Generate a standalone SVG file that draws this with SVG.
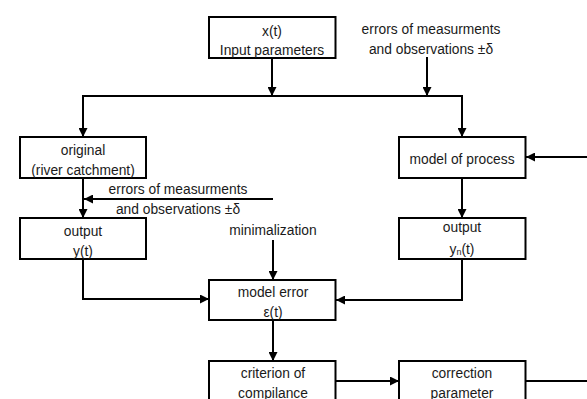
<svg xmlns="http://www.w3.org/2000/svg" width="587" height="399" viewBox="0 0 587 399">
<style>
.box{fill:#fff;stroke:#000;stroke-width:2}
.ln{fill:none;stroke:#000;stroke-width:2}
text{font-family:"Liberation Sans",Arial,sans-serif;font-size:13.8px;fill:#1a1a1a;text-anchor:middle;dominant-baseline:central}
</style>
<defs>
<marker id="ah" viewBox="0 0 10 10" refX="10" refY="5" markerWidth="9" markerHeight="9" markerUnits="userSpaceOnUse" orient="auto">
<path d="M0,0 L10,5 L0,10 z" fill="#000"/>
</marker>
</defs>
<rect width="587" height="399" fill="#fff"/>
<g id="connectors">
<path class="ln" d="M272,58 V96" marker-end="url(#ah)"/>
<path class="ln" d="M427,57 V96" marker-end="url(#ah)"/>
<path class="ln" d="M272,96 H83 V137" marker-end="url(#ah)"/>
<path class="ln" d="M272,96 H462 V137" marker-end="url(#ah)"/>
<path class="ln" d="M587,157 H526" marker-end="url(#ah)"/>
<path class="ln" d="M83,178 V218" marker-end="url(#ah)"/>
<path class="ln" d="M273,199 H84" marker-end="url(#ah)"/>
<path class="ln" d="M462,178 V218" marker-end="url(#ah)"/>
<path class="ln" d="M273,240 V280" marker-end="url(#ah)"/>
<path class="ln" d="M83,259 V299 H209" marker-end="url(#ah)"/>
<path class="ln" d="M462,259 V300 H336" marker-end="url(#ah)"/>
<path class="ln" d="M273,320 V361" marker-end="url(#ah)"/>
<path class="ln" d="M336,381 H399" marker-end="url(#ah)"/>
<path class="ln" d="M525,381 H587"/>
</g>
<g id="input">
<rect class="box" x="209" y="17" width="126.5" height="41"/>
<text x="272" y="31">x(t)</text>
<text x="272" y="50">Input parameters</text>
</g>
<g id="errors-top">
<text x="431" y="29">errors of measurments</text>
<text x="431" y="49">and observations ±δ</text>
</g>
<g id="original">
<rect class="box" x="20" y="137" width="126" height="41"/>
<text x="83" y="150">original</text>
<text x="83" y="170">(river catchment)</text>
</g>
<g id="model-process">
<rect class="box" x="399" y="137" width="126.5" height="41"/>
<text x="462" y="159">model of process</text>
</g>
<g id="errors-mid">
<text x="178" y="189">errors of measurments</text>
<text x="178" y="209">and observations ±δ</text>
</g>
<g id="output-y">
<rect class="box" x="20" y="218" width="126" height="41"/>
<text x="83" y="231">output</text>
<text x="83" y="251">y(t)</text>
</g>
<g id="minimalization">
<text x="273" y="230.5">minimalization</text>
</g>
<g id="output-yn">
<rect class="box" x="399" y="218" width="126.5" height="41"/>
<text x="462" y="227">output</text>
<text x="462" y="249">y<tspan font-size="9" dy="3">n</tspan><tspan dy="-3">(t)</tspan></text>
</g>
<g id="model-error">
<rect class="box" x="209" y="280" width="126.5" height="40"/>
<text x="273" y="292">model error</text>
<text x="273" y="312">ε(t)</text>
</g>
<g id="criterion">
<rect class="box" x="209" y="361" width="126.5" height="50"/>
<text x="273" y="373">criterion of</text>
<text x="273" y="393">compilance</text>
</g>
<g id="correction">
<rect class="box" x="399" y="361" width="126.5" height="50"/>
<text x="462" y="373">correction</text>
<text x="462" y="393">parameter</text>
</g>
</svg>
